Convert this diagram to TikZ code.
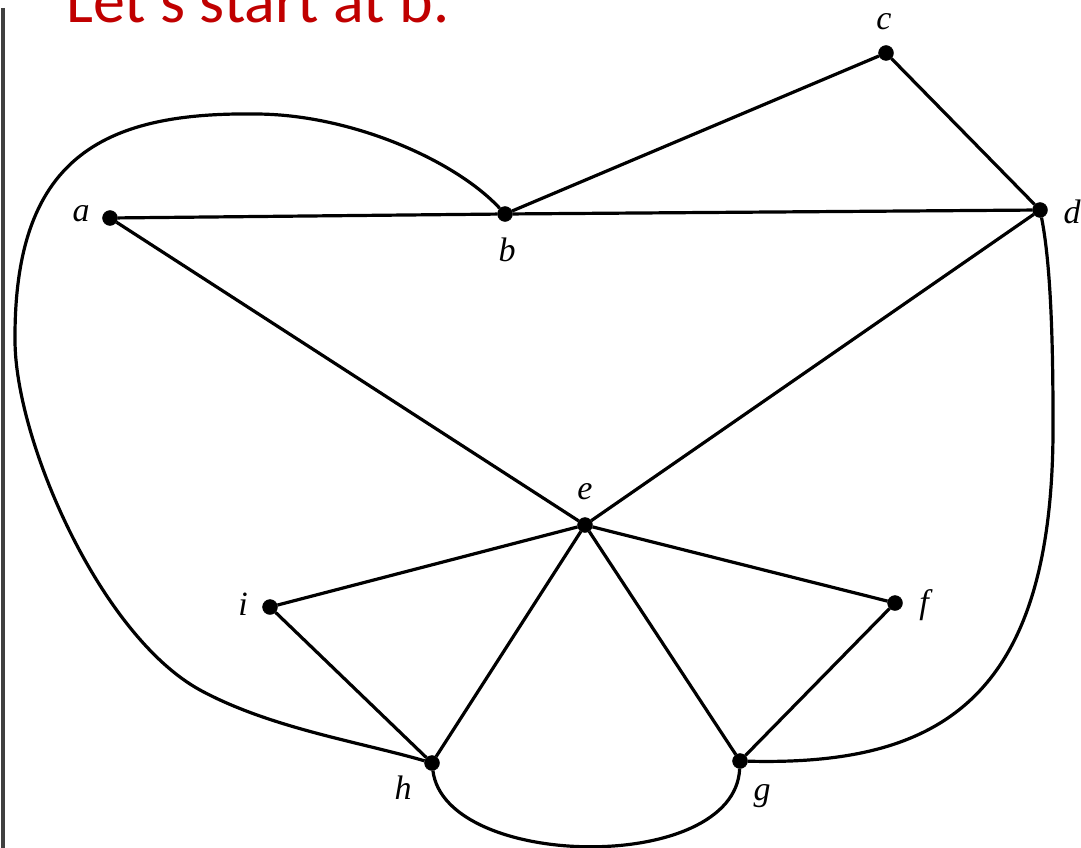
\documentclass[tikz,border=0pt]{standalone}
\usepackage{fontspec}
\newfontfamily\titlefont{Carlito}
\newfontfamily\labfont{Liberation Serif}
\definecolor{titlered}{RGB}{192,0,0}
\begin{document}
\begin{tikzpicture}[x=1pt,y=-1pt,
  vtx/.style={circle,fill=black,draw=black,inner sep=0pt,minimum size=15pt},
  edge/.style={line width=3.2pt,black},
  lab/.style={font=\labfont\itshape\fontsize{34}{38}\selectfont,inner sep=0pt}]
\useasboundingbox (0,0) rectangle (1081,848);
\fill[white] (0,0) rectangle (1081,848);
% scan edge
\draw[line width=4pt,black!75] (3,8) -- (3,848);
% title
\node[anchor=base west,inner sep=0pt,text=titlered,font=\titlefont\fontsize{64}{72}\selectfont] (title) at (66,23) {Let's start at b.};
% vertices
\node[vtx] (a) at (110,218) {};
\node[vtx] (b) at (505,214) {};
\node[vtx] (c) at (886,53) {};
\node[vtx] (d) at (1040,210) {};
\node[vtx] (e) at (585,525) {};
\node[vtx] (i) at (270,607) {};
\node[vtx] (f) at (895,603) {};
\node[vtx] (h) at (432,763) {};
\node[vtx] (g) at (740,761) {};
% labels
\node[lab] (la) at (81,214) {a};
\node[lab] (lb) at (507,250) {b};
\node[lab] (lc) at (884,22) {c};
\node[lab] (ld) at (1072,212) {d};
\node[lab] (le) at (585,492) {e};
\node[lab] (li) at (243,604) {i};
\node[lab] (lf) at (924,605) {f};
\node[lab] (lh) at (403,788) {h};
\node[lab] (lg) at (762,796) {g};
% straight edges
\draw[edge] (a) -- (b);
\draw[edge] (b) -- (d);
\draw[edge] (b) -- (c);
\draw[edge] (c) -- (d);
\draw[edge] (a) -- (e);
\draw[edge] (d) -- (e);
\draw[edge] (e) -- (i);
\draw[edge] (e) -- (h);
\draw[edge] (e) -- (g);
\draw[edge] (e) -- (f);
\draw[edge] (i) -- (h);
\draw[edge] (f) -- (g);
% curved edges
\draw[edge] (b) .. controls (455,160) and (350,114) .. (255,114)
  .. controls (100,112) and (14,160) .. (15,340)
  .. controls (15,440) and (100,635) .. (200,690)
  .. controls (270,728) and (360,742) .. (h);
\draw[edge] (d) .. controls (1050,260) and (1053,330) .. (1053,420)
  .. controls (1055,700) and (940,766) .. (g);
\draw[edge] (h) .. controls (445,870) and (735,875) .. (g);
\end{tikzpicture}
\end{document}
